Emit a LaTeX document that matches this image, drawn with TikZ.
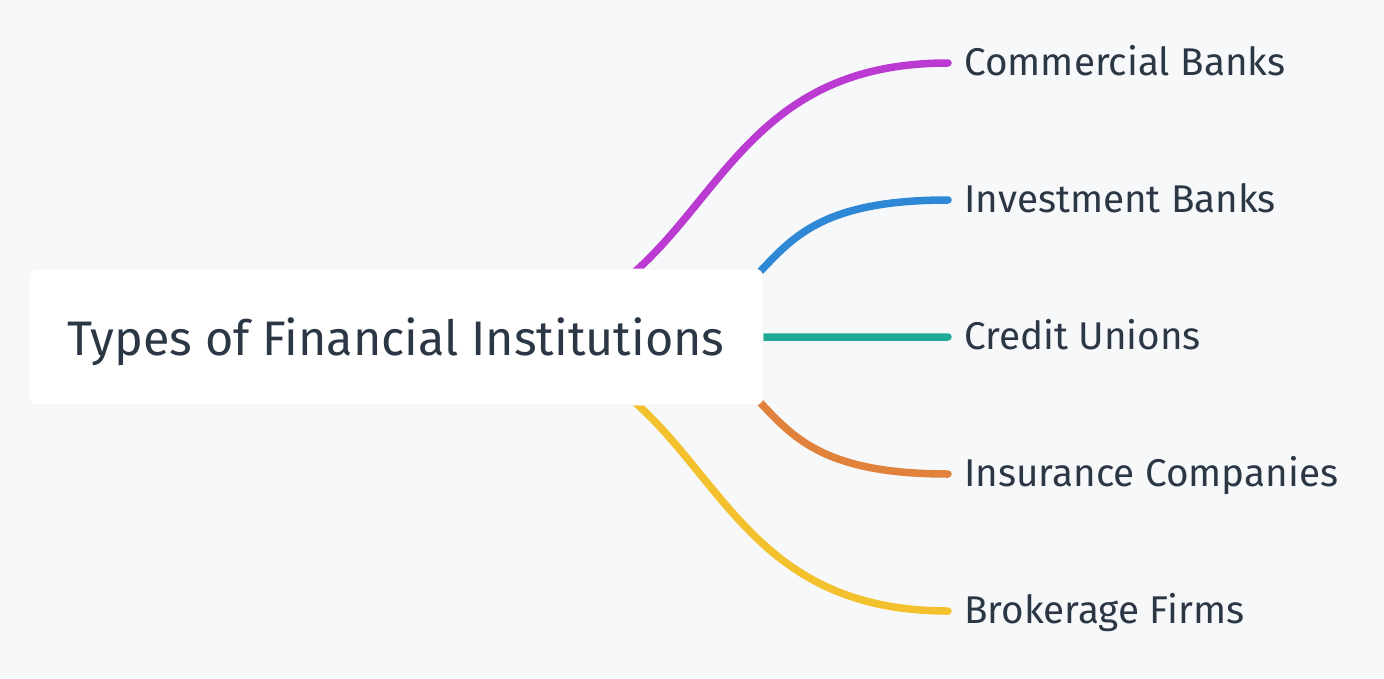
\documentclass[tikz,border=0pt]{standalone}
\usepackage{fontspec}
\setmainfont{Fira Sans}
\usetikzlibrary{positioning,backgrounds}
\definecolor{canvas}{HTML}{F7F8FA}
\definecolor{ink}{HTML}{2B3744}
\definecolor{cMagenta}{HTML}{BB3BD2}
\definecolor{cBlue}{HTML}{2F88D6}
\definecolor{cTeal}{HTML}{1FAA96}
\definecolor{cOrange}{HTML}{E1823C}
\definecolor{cYellow}{HTML}{F4C12E}
\tikzset{%
     base/.style = {text=ink, inner sep=0pt},
  rootbox/.style = {base, rectangle, rounded corners=0.16cm, fill=white,
                    draw=gray!8, minimum width=14.68cm, minimum height=2.72cm,
                    text height=0.72cm, text depth=0pt,
                    font=\fontsize{27.6}{32}\selectfont},
     leaf/.style = {base, anchor=west, inner xsep=0.32cm,
                    text height=0.5cm, text depth=0pt,
                    font=\fontsize{22}{26}\selectfont},
     edge/.style = {line width=0.15cm, line cap=round},
}

\begin{document}
\begin{tikzpicture}[node distance=2.74cm]
  \useasboundingbox (0,0) rectangle (27.68,-13.56);

  \node (root)       [rootbox] at (7.92,-6.74)  {Types of Financial Institutions};
  \node (commercial) [leaf]    at (18.96,-1.26) {Commercial Banks};
  \node (investment) [leaf, below=of commercial.west, anchor=west] {Investment Banks};
  \node (credit)     [leaf, below=of investment.west, anchor=west] {Credit Unions};
  \node (insurance)  [leaf, below=of credit.west,     anchor=west] {Insurance Companies};
  \node (brokerage)  [leaf, below=of insurance.west,  anchor=west] {Brokerage Firms};

  \coordinate (outer) at ([xshift=1.12cm]root.center);
  \coordinate (inner) at ([xshift=3.64cm]root.center);

  \begin{pgfonlayer}{background}
    \fill[canvas] (0,0) rectangle (27.68,-13.56);
    \draw[edge, cMagenta] (outer) .. controls +(5.46,0) and +(-5.46,0) .. (commercial.west);
    \draw[edge, cBlue]    (inner) .. controls +(4.8,0)  and +(-4.8,0)  .. (investment.west);
    \draw[edge, cTeal]    (root.east) -- (credit.west);
    \draw[edge, cOrange]  (inner) .. controls +(4.8,0)  and +(-4.8,0)  .. (insurance.west);
    \draw[edge, cYellow]  (outer) .. controls +(5.46,0) and +(-5.46,0) .. (brokerage.west);
  \end{pgfonlayer}
\end{tikzpicture}
\end{document}
